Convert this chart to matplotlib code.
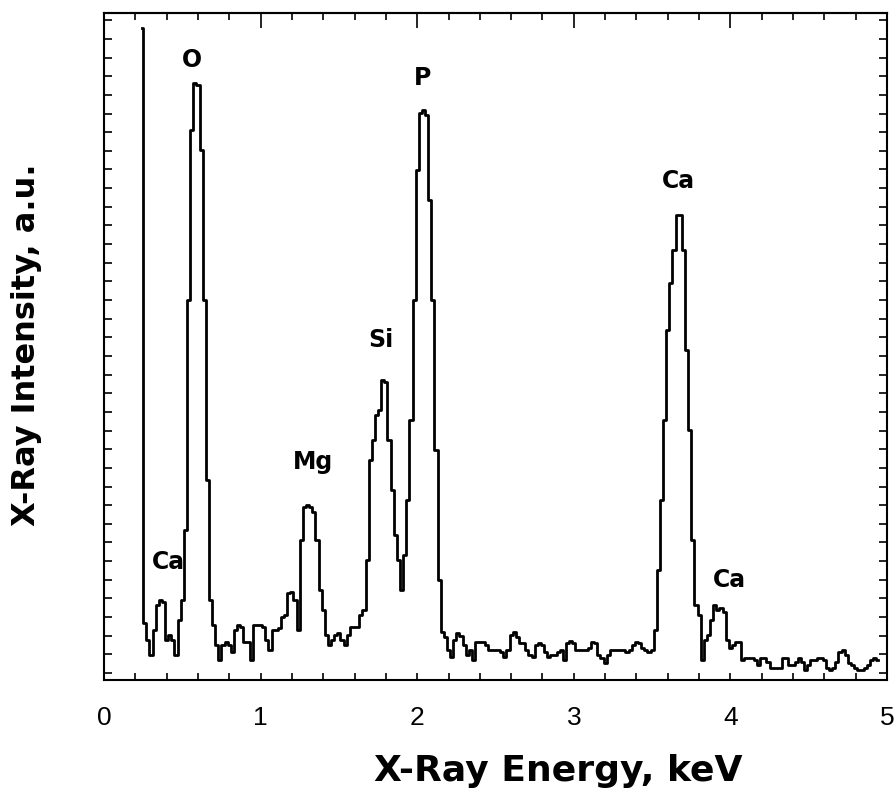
import matplotlib
matplotlib.use("Agg")
import matplotlib.pyplot as plt
from matplotlib.ticker import MultipleLocator
import numpy as np

# X-ray energy (keV), channel centres
energy_start = 0.24
energy_step = 0.02

# Intensity (a.u.)
intensity = [
    645, 50, 33, 18, 43, 68, 73, 71, 33, 38,          # 0.24-0.42
    33, 18, 53, 73, 143, 373, 543, 590, 588, 523,     # 0.44-0.62
    373, 193, 73, 48, 28, 13, 28, 31, 28, 21,         # 0.64-0.82
    43, 48, 46, 31, 31, 13, 48, 48, 48, 46,           # 0.84-1.02
    33, 23, 43, 43, 45, 56, 58, 80, 81, 73,           # 1.04-1.22
    43, 133, 166, 168, 166, 161, 133, 83, 63, 38,     # 1.24-1.42
    28, 33, 38, 40, 33, 28, 38, 46, 46, 46,           # 1.44-1.62
    58, 63, 113, 213, 233, 258, 263, 293, 291, 233,   # 1.64-1.82
    183, 138, 113, 83, 118, 173, 253, 373, 503, 560,  # 1.84-2.02
    563, 558, 473, 373, 223, 93, 41, 36, 23, 16,      # 2.04-2.22
    33, 40, 37, 28, 18, 23, 13, 31, 31, 31,           # 2.24-2.42
    28, 23, 23, 23, 23, 21, 16, 23, 38, 41,           # 2.44-2.62
    36, 30, 30, 23, 18, 16, 28, 30, 28, 21,           # 2.64-2.82
    16, 18, 18, 21, 23, 13, 30, 32, 30, 23,           # 2.84-3.02
    23, 23, 23, 25, 31, 30, 18, 15, 10, 18,           # 3.04-3.22
    23, 23, 23, 23, 23, 21, 23, 28, 31, 30,           # 3.24-3.42
    25, 23, 21, 23, 43, 103, 173, 253, 343, 390,      # 3.44-3.62
    423, 458, 458, 423, 323, 243, 133, 68, 58, 13,    # 3.64-3.82
    33, 38, 53, 68, 63, 65, 61, 33, 25, 28,           # 3.84-4.02
    31, 31, 13, 15, 15, 15, 13, 8, 15, 15,            # 4.04-4.22
    11, 5, 5, 5, 5, 15, 15, 8, 8, 11,                 # 4.24-4.42
    15, 11, 3, 8, 13, 13, 15, 15, 13, 5,              # 4.44-4.62
    3, 5, 11, 21, 23, 18, 10, 8, 5, 3,                # 4.64-4.82
    3, 5, 8, 13, 15, 13,                              # 4.84-4.94
]
energy = [round(energy_start + energy_step * i, 2) for i in range(len(intensity))]

# Peak labels
peak_labels = ["O", "P", "Si", "Mg", "Ca", "Ca", "Ca"]
peak_label_x = [0.562, 2.037, 1.769, 1.335, 0.409, 3.665, 3.991]
peak_label_y = [613, 595, 333, 211, 111, 492, 93]

xticks = [0, 1, 2, 3, 4, 5]
xtick_labels = ["0", "1", "2", "3", "4", "5"]

plt.rcParams['font.family'] = ['Liberation Sans', 'DejaVu Sans']
bold_font = ['DejaVu Sans']
tick_font = ['Liberation Sans']

fig = plt.figure(figsize=(8.95, 7.88), dpi=100)
ax = fig.add_axes([104/895, 1 - 680/788, (887-104)/895, (680-13)/788])

ax.step(energy, intensity, where='mid', color='black', lw=2.0)

for lab, x, y in zip(peak_labels, peak_label_x, peak_label_y):
    ax.text(x, y, lab, ha='center', va='center', fontsize=17, fontweight='bold',
            family=bold_font)

ax.set_xlim(0, 5)
ax.set_ylim(-7, 660)
ax.set_xticks(xticks)
ax.set_xticklabels(xtick_labels, fontsize=19, family=tick_font)
ax.xaxis.set_minor_locator(MultipleLocator(0.2))
ax.yaxis.set_major_locator(MultipleLocator(18.65))
ax.set_yticklabels([])
ax.tick_params(axis='x', which='both', direction='in', length=5, width=1.2,
               bottom=True, top=False, pad=19)
ax.tick_params(axis='y', which='both', direction='in', length=6, width=1.2,
               left=True, right=True)

sec = ax.secondary_xaxis('top')
sec.set_xticks(xticks)
sec.set_xticklabels([])
sec.xaxis.set_minor_locator(MultipleLocator(0.2))
sec.tick_params(axis='x', which='major', direction='in', length=11, width=1.2)
sec.tick_params(axis='x', which='minor', direction='in', length=5, width=1.2)
sec.spines['top'].set_linewidth(1.5)

for s in ax.spines.values():
    s.set_linewidth(1.5)

fig.text(558/895, 1 - 771/788, "X-Ray Energy, keV", ha='center', va='center',
         fontsize=26, fontweight='bold', family=bold_font)
fig.text(27/895, 1 - 345/788, "X-Ray Intensity, a.u.", ha='center', va='center',
         rotation=90, fontsize=23, fontweight='bold', family=bold_font)

fig.savefig("out.png", dpi=100)
